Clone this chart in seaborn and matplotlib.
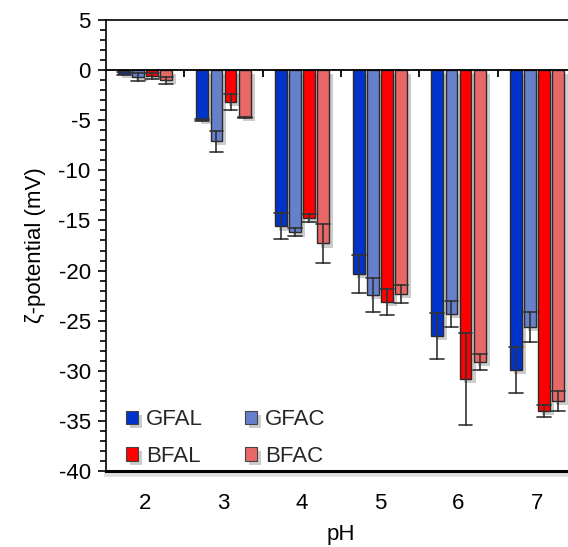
import numpy as np
import pandas as pd
import matplotlib
matplotlib.use("Agg")
import matplotlib.pyplot as plt
import matplotlib.patheffects as pe
from matplotlib.ticker import MultipleLocator
import seaborn as sns

ph_levels = ["2", "3", "4", "5", "6", "7"]
samples = ["GFAL", "GFAC", "BFAL", "BFAC"]
colors = ["#0033CC", "#6680CC", "#FF0000", "#E86868"]

gfal_mean = [-0.35, -5.0, -15.6, -20.3, -26.5, -29.9]
gfal_err = [0.15, 0.1, 1.3, 1.9, 2.3, 2.3]
gfac_mean = [-0.72, -7.1, -16.2, -22.4, -24.3, -25.6]
gfac_err = [0.4, 1.05, 0.4, 1.7, 1.3, 1.5]
bfal_mean = [-0.62, -3.2, -14.8, -23.1, -30.8, -34.0]
bfal_err = [0.3, 0.8, 0.4, 1.3, 4.6, 0.6]
bfac_mean = [-1.0, -4.7, -17.3, -22.3, -29.1, -33.0]
bfac_err = [0.35, 0.05, 1.9, 0.9, 0.8, 1.0]

means = {"GFAL": gfal_mean, "GFAC": gfac_mean, "BFAL": bfal_mean, "BFAC": bfac_mean}
errs = {"GFAL": gfal_err, "GFAC": gfac_err, "BFAL": bfal_err, "BFAC": bfac_err}

rows = []
for s in samples:
    for ph, m, e in zip(ph_levels, means[s], errs[s]):
        for v in (m - e, m, m + e):
            rows.append({"pH": ph, "sample": s, "zeta": v})
df = pd.DataFrame(rows)

sns.set_style("ticks")
plt.rcParams["font.family"] = ["Liberation Sans", "DejaVu Sans"]
plt.rcParams["axes.unicode_minus"] = False

fig = plt.figure(figsize=(5.68, 5.47), dpi=100)
ax = fig.add_axes([106 / 568, 1 - 471 / 547, 470 / 568, 451 / 547])

sns.barplot(data=df, x="pH", y="zeta", hue="sample", order=ph_levels,
            hue_order=samples, palette=colors, saturation=1, width=0.72, gap=0.17,
            errorbar=("pi", 100), capsize=0.7,
            err_kws={"color": "#333333", "linewidth": 1.2},
            edgecolor="#2a2a2a", linewidth=1.0, ax=ax)

for p in ax.patches:
    p.set_path_effects([pe.SimplePatchShadow(offset=(3, -3), shadow_rgbFace="k", alpha=0.2),
                        pe.Normal()])

ax.set_xlim(-0.5, 5.5)
ax.set_ylim(-40, 5)
ax.yaxis.set_major_locator(MultipleLocator(5))
ax.yaxis.set_minor_locator(MultipleLocator(1))
ax.tick_params(axis="y", which="major", length=6, width=1.2, direction="out",
               labelsize=16, pad=5, color="k", labelcolor="k")
ax.tick_params(axis="y", which="minor", length=4, width=1.2, direction="out", color="k")
ax.tick_params(axis="x", length=0, labelsize=16, pad=16, labelcolor="k")

for s in ["top", "left", "right"]:
    ax.spines[s].set_color("k")
    ax.spines[s].set_linewidth(1.2)
ax.spines["bottom"].set_color("k")
ax.spines["bottom"].set_linewidth(2.2)
ax.spines["bottom"].set_path_effects([
    pe.SimpleLineShadow(offset=(0, -2.5), shadow_color="gray", alpha=0.25, linewidth=3.5),
    pe.Normal()])

ax.axhline(0, color="k", lw=1.3, zorder=5)
ax.plot(np.arange(0.5, len(ph_levels) - 0.5), np.zeros(len(ph_levels) - 1),
        ls="none", marker=3, ms=5, mew=1.3, color="k", zorder=5)

ax.set_xlabel("pH", fontsize=16, labelpad=7, color="k")
ax.set_ylabel("ζ-potential (mV)", fontsize=16, labelpad=9, color="k")

handles, labels = ax.get_legend_handles_labels()
idx = [labels.index(n) for n in ["GFAL", "BFAL", "GFAC", "BFAC"]]
leg = ax.legend([handles[i] for i in idx], [labels[i] for i in idx],
                loc="lower left", bbox_to_anchor=(0.0, -0.035), ncol=2,
                frameon=False, fontsize=16, handlelength=0.55, handleheight=0.55,
                handletextpad=0.35, columnspacing=1.9, labelspacing=0.7)
for h in leg.legend_handles:
    h.set_edgecolor("#444444")
    h.set_linewidth(0.8)

fig.savefig("out.png", dpi=100)
